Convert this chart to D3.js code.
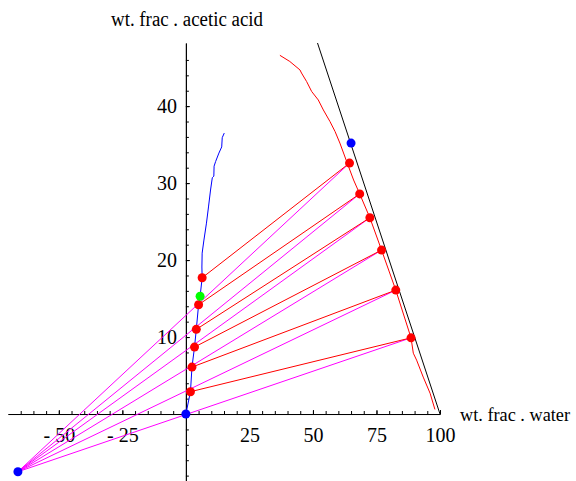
<!DOCTYPE html>
<html>
<head>
<meta charset="utf-8">
<script src="https://cdn.jsdelivr.net/npm/d3@7"></script>
<style>
	body { margin: 0; background: #fff; }
	svg { display: block; }
	text { font-family: "Liberation Serif", "Times New Roman", serif; fill: #000; }
</style>
</head>
<body>
<div id="chart"></div>
<script>
// ---- data (wt. %) ----
// water-rich phase boundary (red), top to bottom
const raffCurveX = [37.0, 40.9, 44.9, 45.5, 47.5, 49.5, 52.1, 54.1, 56.7, 58.7, 60.6, 63.5, 66.0, 68.4, 72.4, 77.0, 82.6, 88.6, 89.5, 90.8, 93.4, 96.1, 98.0];
const raffCurveY = [46.6, 45.8, 44.7, 44.3, 43.2, 41.9, 40.8, 39.5, 38.0, 36.7, 35.2, 32.6, 30.4, 28.6, 25.5, 21.3, 16.1, 9.9, 7.9, 7.0, 4.8, 2.7, 0.6];

// solvent-rich phase boundary (blue), bottom to top
const extCurveX = [0, 1.8, 2.4, 3.4, 4.1, 5.0, 5.6, 6.4, 6.3, 6.4, 7.1, 8.1, 8.9, 9.7, 10.4, 11.0, 11.1, 11.7, 13.0, 14.1, 14.3, 15.1];
const extCurveY = [0, 2.9, 6.1, 8.7, 11.0, 14.2, 15.3, 17.7, 19.1, 20.9, 22.6, 24.8, 26.9, 29.1, 30.7, 30.9, 32.2, 32.8, 33.9, 34.7, 35.9, 36.5];

// tie line ends
const extTieX = [6.4, 5.0, 4.1, 3.4, 2.4, 1.8];
const extTieY = [17.7, 14.2, 11.0, 8.7, 6.1, 2.9];
const raffTieX = [64.4, 68.4, 72.4, 77.0, 82.6, 88.6];
const raffTieY = [32.6, 28.6, 25.5, 21.3, 16.1, 9.9];

// operating point, solvent/feed points, mix point
const blueX = [-66.1, 0, 65.0];
const blueY = [-7.5, 0, 35.2];
const mixX = [5.6];
const mixY = [15.3];

// x + y = 100 edge
const edgeX = [100, 0];
const edgeY = [0, 100];

const xMajor = [-50, -25, 25, 50, 75, 100];
const yMajor = [10, 20, 30, 40];
const xMinor = d3.range(-65, 101, 5).filter(d => d !== 0);
const yMinor = d3.range(-8, 47, 2).filter(d => d !== 0);

const W = 576, H = 481;

const svg = d3.select('#chart').append('svg')
	.attr('width', W)
	.attr('height', H);

const x = d3.scaleLinear().domain([-70, 100]).range([8, 440]);
const y = d3.scaleLinear().domain([-8.7, 48.2]).range([481, 43]);

svg.append('clipPath').attr('id', 'plot')
	.append('rect')
	.attr('x', 0).attr('y', y(48.2))
	.attr('width', W).attr('height', H);

const fmt = d => d < 0 ? `- ${-d}` : `${d}`;

/* -------------------- axes ---------------------- */
function drawAxes() {
	svg.append('g').attr('transform', `translate(0,${y(0)})`)
		.call(d3.axisBottom(x).tickValues(xMinor).tickSize(-3).tickSizeOuter(0).tickFormat(''));
	const xl = svg.append('g').attr('transform', `translate(0,${y(0)})`)
		.call(d3.axisBottom(x).tickValues(xMajor).tickSize(-4).tickSizeOuter(0).tickPadding(14).tickFormat(fmt));

	svg.append('g').attr('transform', `translate(${x(0)},0)`)
		.call(d3.axisLeft(y).tickValues(yMinor).tickSize(-3).tickSizeOuter(0).tickFormat(''));
	const yl = svg.append('g').attr('transform', `translate(${x(0)},0)`)
		.call(d3.axisLeft(y).tickValues(yMajor).tickSize(-4).tickSizeOuter(0).tickPadding(9).tickFormat(fmt));

	svg.selectAll('.domain, .tick line').attr('stroke', '#000').attr('stroke-width', 1);
	[xl, yl].forEach(g => g.selectAll('text')
		.attr('font-family', '"Liberation Serif", serif')
		.attr('font-size', 20)
		.attr('fill', '#000'));

	svg.append('text')
		.attr('x', 111).attr('y', 26)
		.attr('font-size', 20)
		.attr('textLength', 152)
		.attr('lengthAdjust', 'spacingAndGlyphs')
		.text('wt. frac . acetic acid');

	svg.append('text')
		.attr('x', 460).attr('y', 421)
		.attr('font-size', 19)
		.attr('textLength', 110)
		.attr('lengthAdjust', 'spacingAndGlyphs')
		.text('wt. frac . water');
}

drawAxes();

/* -------------------- plot ---------------------- */
const plot = svg.append('g').attr('clip-path', 'url(#plot)');

const line = d3.line().x(d => x(d[0])).y(d => y(d[1]));
const zip = (xs, ys) => xs.map((v, i) => [v, ys[i]]);

// magenta lines from the operating point to each raffinate point
raffTieX.forEach((rx, i) => {
	plot.append('path')
		.attr('d', line([[blueX[0], blueY[0]], [rx, raffTieY[i]]]))
		.attr('stroke', '#ff00ff').attr('stroke-width', 1).attr('fill', 'none');
});

// tie lines
extTieX.forEach((ex, i) => {
	plot.append('path')
		.attr('d', line([[ex, extTieY[i]], [raffTieX[i], raffTieY[i]]]))
		.attr('stroke', '#ff0000').attr('stroke-width', 1).attr('fill', 'none');
});

plot.append('path')
	.attr('d', line(zip(edgeX, edgeY)))
	.attr('stroke', '#000').attr('stroke-width', 1).attr('fill', 'none');

plot.append('path')
	.attr('d', line(zip(raffCurveX, raffCurveY)))
	.attr('stroke', '#ff0000').attr('stroke-width', 1).attr('fill', 'none');

plot.append('path')
	.attr('d', line(zip(extCurveX, extCurveY)))
	.attr('stroke', '#0000ff').attr('stroke-width', 1).attr('fill', 'none');

function dots(xs, ys, color) {
	svg.append('g').selectAll('circle')
		.data(zip(xs, ys))
		.join('circle')
		.attr('cx', d => x(d[0]))
		.attr('cy', d => y(d[1]))
		.attr('r', 4.5)
		.attr('fill', color);
}

dots(extTieX, extTieY, '#ff0000');
dots(raffTieX, raffTieY, '#ff0000');
dots(mixX, mixY, '#00ff00');
dots(blueX, blueY, '#0000ff');
</script>
</body>
</html>
